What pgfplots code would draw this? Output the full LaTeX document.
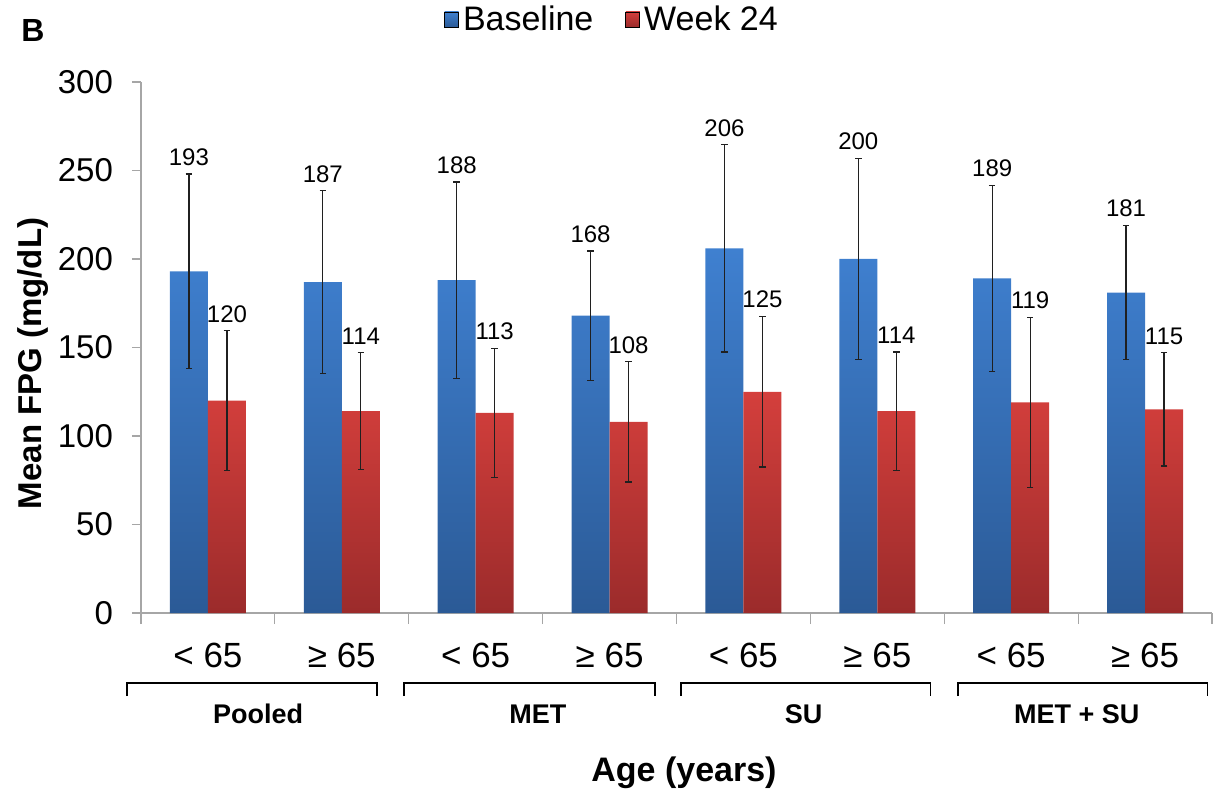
\documentclass[border=0pt]{standalone}
\usepackage{pgfplots}
\pgfplotsset{compat=1.18}
\usepackage{pgfplotstable}
\usepackage{fontspec}
\setmainfont{Liberation Sans}
\definecolor{bTop}{HTML}{3F80D0}
\definecolor{bBot}{HTML}{2B5A96}
\definecolor{rTop}{HTML}{D43F3C}
\definecolor{rBot}{HTML}{9B2B2B}
\definecolor{axgray}{HTML}{A6A6A6}
\definecolor{errc}{HTML}{202020}

\pgfplotstableread{
x y err
-0.142 193 55
0.858 187 51.5
1.858 188 55.5
2.858 168 36.5
3.858 206 58.5
4.858 200 57
5.858 189 52.5
6.858 181 38
}\base
\pgfplotstableread{
x y err
0.142 120 39.5
1.142 114 33
2.142 113 36.5
3.142 108 34
4.142 125 42.5
5.142 114 33.5
6.142 119 48
7.142 115 32
}\wk

\begin{document}
\begin{tikzpicture}
\useasboundingbox (-70.5pt,-95pt) rectangle (540pt,306.5pt);
\begin{axis}[
  at={(0pt,0pt)}, anchor=south west,
  scale only axis, width=535.5pt, height=265.5pt,
  xmin=-0.5, xmax=7.5, ymin=0, ymax=300,
  clip=false,
  axis lines=left,
  axis line style={-, axgray, line width=0.6pt},
  tick align=outside,
  major tick length=4.5pt,
  ytick={0,50,...,300},
  ytick style={draw=axgray, line width=0.6pt},
  xtick={0,...,7},
  xticklabels={< 65, ≥ 65, < 65, ≥ 65, < 65, ≥ 65, < 65, ≥ 65},
  xtick style={draw=none},
  extra x ticks={-0.5,0.5,...,7.5},
  extra x tick labels={},
  extra x tick style={major tick length=5.5pt, xtick style={draw=axgray, line width=0.6pt}},
  /pgf/number format/assume math mode=true,
  ticklabel style={font=\fontsize{16.5}{19}\selectfont},
  xticklabel style={font=\fontsize{17.5}{20}\selectfont, yshift=-7pt},
  yticklabel style={xshift=-6pt},
  ylabel={\bfseries Mean FPG (mg/dL)},
  ylabel style={at={(axis description cs:-0.101,0.47)}, anchor=center, font=\fontsize{16.5}{19}\selectfont},
  xlabel={\bfseries Age (years)},
  xlabel style={at={(axis description cs:0.507,-0.30)}, anchor=center, font=\fontsize{17}{20}\selectfont},
  legend style={at={(axis description cs:0.4407,1.1168)}, anchor=center, draw=none, fill=none,
    legend columns=2, font=\fontsize{17}{20}\selectfont,
    /tikz/every even column/.append style={column sep=14pt}},
  legend cell align=left,
]
\addlegendimage{legend image code/.code={\fill[top color=bTop,bottom color=bBot] (-2pt,-3.5pt) rectangle (5pt,4pt);}}
\addlegendentry{Baseline}
\addlegendimage{legend image code/.code={\fill[top color=rTop,bottom color=rBot] (-2pt,-3.5pt) rectangle (5pt,4pt);}}
\addlegendentry{Week 24}

\addplot[ybar, bar width=0.284, bar shift=0pt, draw=none, top color=bTop, bottom color=bBot, forget plot,
  error bars/.cd, y dir=both, y explicit, error mark=-,
  error bar style={draw=errc, line width=0.6pt},
  error mark options={rotate=90, draw=errc, line width=0.6pt, mark size=1.6pt}]
  table[x=x, y=y, y error=err] {\base};
\addplot[ybar, bar width=0.284, bar shift=0pt, draw=none, top color=rTop, bottom color=rBot, forget plot,
  error bars/.cd, y dir=both, y explicit, error mark=-,
  error bar style={draw=errc, line width=0.6pt},
  error mark options={rotate=90, draw=errc, line width=0.6pt, mark size=1.6pt}]
  table[x=x, y=y, y error=err] {\wk};

\addplot[draw=none, mark=none, forget plot, nodes near coords, point meta=explicit,
  every node near coord/.append style={font=\fontsize{12}{14}\selectfont, anchor=south, inner sep=0pt, yshift=4pt, black}]
  table[x=x, y expr=\thisrow{y}+\thisrow{err}, meta=y] {\base};
\addplot[draw=none, mark=none, forget plot, nodes near coords, point meta=explicit,
  every node near coord/.append style={font=\fontsize{12}{14}\selectfont, anchor=south, inner sep=0pt, yshift=4pt, black}]
  table[x=x, y expr=\thisrow{y}+\thisrow{err}, meta=y] {\wk};

% group brackets
\draw[black, line width=0.6pt] (axis cs:-0.605,-47) -- (axis cs:-0.605,-39.5) -- (axis cs:1.263,-39.5) -- (axis cs:1.263,-47);
\draw[black, line width=0.6pt] (axis cs:1.464,-47) -- (axis cs:1.464,-39.5) -- (axis cs:3.339,-39.5) -- (axis cs:3.339,-47);
\draw[black, line width=0.6pt] (axis cs:3.533,-47) -- (axis cs:3.533,-39.5) -- (axis cs:5.40,-39.5) -- (axis cs:5.40,-47);
\draw[black, line width=0.6pt] (axis cs:5.602,-47) -- (axis cs:5.602,-39.5) -- (axis cs:7.468,-39.5) -- (axis cs:7.468,-47);
\node[font=\bfseries\fontsize{13.5}{15}\selectfont] at (axis cs:0.374,-57) {Pooled};
\node[font=\bfseries\fontsize{13.5}{15}\selectfont] at (axis cs:2.465,-57) {MET};
\node[font=\bfseries\fontsize{13.5}{15}\selectfont] at (axis cs:4.45,-57) {SU};
\node[font=\bfseries\fontsize{13.5}{15}\selectfont] at (axis cs:6.49,-57) {MET + SU};
\node[font=\bfseries\fontsize{16}{18}\selectfont] at (axis description cs:-0.101,1.097) {B};
\end{axis}
\end{tikzpicture}
\end{document}
